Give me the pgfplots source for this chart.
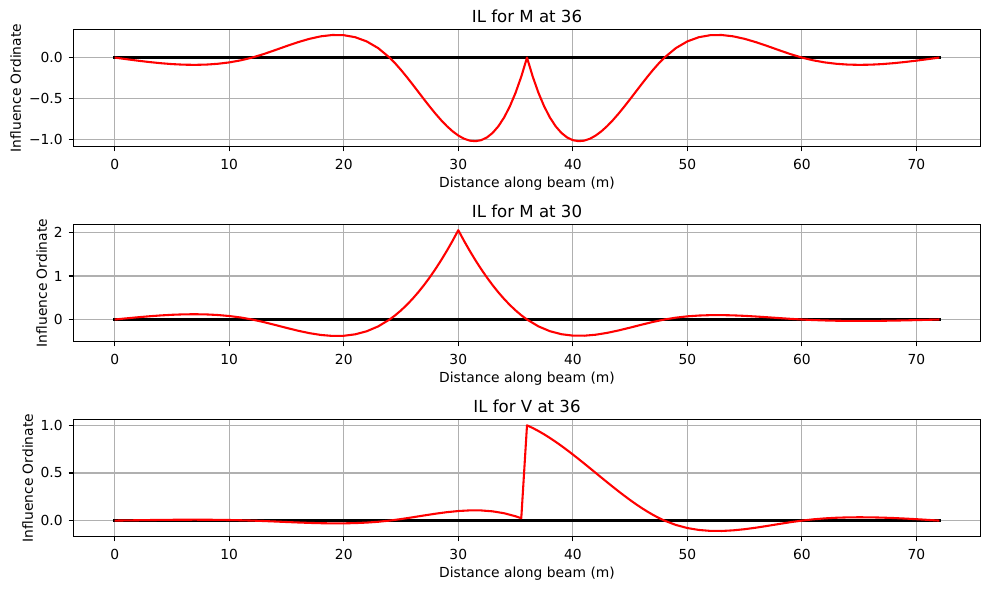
\documentclass[border=0pt]{standalone}
\usepackage{fontspec}
\setmainfont{DejaVu Sans}
\usepackage{pgfplots}
\pgfplotsset{compat=1.18}
\usepackage{pgfplotstable}
\usetikzlibrary{calc}

\definecolor{gridgray}{HTML}{B0B0B0}

% Influence line ordinates, six spans of 12 m
\pgfplotstableread{
x y
0 0
1 -0.0191
2 -0.0374
3 -0.0541
4 -0.0684
5 -0.0795
6 -0.0865
7 -0.0888
8 -0.0855
9 -0.0757
10 -0.0588
11 -0.0338
12 0
13 0.0426
14 0.0908
15 0.1406
16 0.1880
17 0.2290
18 0.2596
19 0.2758
20 0.2735
21 0.2488
22 0.1977
23 0.1161
24 0
24.5 -0.0718
25 -0.1513
25.5 -0.2366
26 -0.3259
26.5 -0.4171
27 -0.5084
27.5 -0.5979
28 -0.6838
28.5 -0.7640
29 -0.8367
29.5 -0.9000
30 -0.9519
30.5 -0.9907
31 -1.0143
31.5 -1.0209
32 -1.0085
32.5 -0.9754
33 -0.9195
33.5 -0.8389
34 -0.7318
34.5 -0.5963
35 -0.4304
35.5 -0.2323
36 0
36.5 -0.2323
37 -0.4304
37.5 -0.5963
38 -0.7318
38.5 -0.8389
39 -0.9195
39.5 -0.9754
40 -1.0085
40.5 -1.0209
41 -1.0143
41.5 -0.9907
42 -0.9519
42.5 -0.9000
43 -0.8367
43.5 -0.7640
44 -0.6838
44.5 -0.5979
45 -0.5084
45.5 -0.4171
46 -0.3259
46.5 -0.2366
47 -0.1513
47.5 -0.0718
48 0
49 0.1161
50 0.1977
51 0.2488
52 0.2735
53 0.2758
54 0.2596
55 0.2290
56 0.1880
57 0.1406
58 0.0908
59 0.0426
60 0
61 -0.0338
62 -0.0588
63 -0.0757
64 -0.0855
65 -0.0888
66 -0.0865
67 -0.0795
68 -0.0684
69 -0.0541
70 -0.0374
71 -0.0191
72 0
}\ilMA

\pgfplotstableread{
x y
0 0
1 0.0261
2 0.0511
3 0.0739
4 0.0934
5 0.1086
6 0.1183
7 0.1214
8 0.1168
9 0.1035
10 0.0803
11 0.0462
12 0
13 -0.0582
14 -0.1241
15 -0.1922
16 -0.2570
17 -0.3130
18 -0.3548
19 -0.3769
20 -0.3738
21 -0.3400
22 -0.2701
23 -0.1586
24 0
24.5 0.0986
25 0.2103
25.5 0.3351
26 0.4731
26.5 0.6243
27 0.7886
27.5 0.9661
28 1.1567
28.5 1.3605
29 1.5775
29.5 1.8076
30 2.0510
30.5 1.8075
31 1.5772
31.5 1.3601
32 1.1561
32.5 0.9654
33 0.7879
33.5 0.6235
34 0.4724
34.5 0.3345
35 0.2098
35.5 0.0983
36 0
37 -0.1578
38 -0.2683
39 -0.3371
40 -0.3698
41 -0.3719
42 -0.3490
43 -0.3068
44 -0.2507
45 -0.1864
46 -0.1195
47 -0.0555
48 0
49 0.0426
50 0.0725
51 0.0912
52 0.1003
53 0.1011
54 0.0952
55 0.0840
56 0.0689
57 0.0516
58 0.0333
59 0.0156
60 0
61 -0.0124
62 -0.0215
63 -0.0278
64 -0.0313
65 -0.0326
66 -0.0317
67 -0.0291
68 -0.0251
69 -0.0198
70 -0.0137
71 -0.0070
72 0
}\ilMB

\pgfplotstableread{
x y
0 0
1 0.0020
2 0.0039
3 0.0057
4 0.0072
5 0.0084
6 0.0091
7 0.0094
8 0.0090
9 0.0080
10 0.0062
11 0.0036
12 0
13 -0.0045
14 -0.0096
15 -0.0148
16 -0.0198
17 -0.0242
18 -0.0274
19 -0.0291
20 -0.0289
21 -0.0263
22 -0.0209
23 -0.0123
24 0
25 0.0160
26 0.0344
27 0.0537
28 0.0722
29 0.0883
30 0.1005
31 0.1071
32 0.1065
33 0.0971
34 0.0773
35 0.0454
35.5 0.0245
36 1.0000
36.5 0.9718
37 0.9400
37.5 0.9051
38 0.8674
38.5 0.8271
39 0.7846
39.5 0.7401
40 0.6941
40.5 0.6468
41 0.5986
41.5 0.5497
42 0.5005
42.5 0.4513
43 0.4024
43.5 0.3541
44 0.3067
44.5 0.2607
45 0.2162
45.5 0.1736
46 0.1332
46.5 0.0953
47 0.0603
47.5 0.0284
48 0
49 -0.0458
50 -0.0780
51 -0.0981
52 -0.1079
53 -0.1088
54 -0.1024
55 -0.0903
56 -0.0742
57 -0.0555
58 -0.0358
59 -0.0168
60 0
61 0.0133
62 0.0232
63 0.0299
64 0.0337
65 0.0350
66 0.0341
67 0.0313
68 0.0270
69 0.0213
70 0.0148
71 0.0075
72 0
}\ilV

\pgfplotsset{
  ilaxis/.style={
    scale only axis,
    width=653.04bp, height=84.24bp,
    anchor=north west,
    xmin=-3.6, xmax=75.6,
    xtick={0,10,20,30,40,50,60,70},
    xtick pos=lower, ytick pos=left,
    tick align=outside,
    major tick length=3.5bp,
    every tick/.style={black, line width=0.8bp},
    axis line style={line width=0.8bp},
    grid=major,
    major grid style={color=gridgray, line width=0.8bp},
    /pgf/number format/assume math mode=true,
    tick label style={font=\fontsize{10}{12}\selectfont, inner sep=0pt},
    xticklabel style={anchor=base, yshift=-13.3bp},
    yticklabel style={anchor=east, xshift=-4.1bp},
    every axis title shift=0pt,
    title style={font=\fontsize{12}{14}\selectfont, at={(0.5,1)}, anchor=base, yshift=4.9bp, inner sep=0pt},
    xlabel={Distance along beam (m)},
    xlabel style={font=\fontsize{10}{12}\selectfont, at={(axis description cs:0.5,0)}, anchor=base, yshift=-29.6bp, inner sep=0pt},
    ylabel={Influence Ordinate},
    clip=false,
  },
  beam/.style={black, line width=2bp, line cap=rect},
  il/.style={red, line width=1.5bp, line join=round},
}

\begin{document}
\begin{tikzpicture}
\path[use as bounding box] (0,0) rectangle (712.08bp,-424.08bp);

\begin{axis}[ilaxis, at={(52.92bp,-21.24bp)},
  title={IL for M at 36},
  ymin=-1.086, ymax=0.343,
  ytick={-1,-0.5,0}, yticklabels={−1.0,−0.5,0.0},
  ylabel style={font=\fontsize{10}{12}\selectfont, inner sep=0pt, anchor=base,
    at={($(axis description cs:0,0.5)+(-37.9bp,0)$)}},
]
\addplot[beam] coordinates {(0,0) (72,0)};
\addplot[il] table {\ilMA};
\end{axis}

\begin{axis}[ilaxis, at={(52.92bp,-161.64bp)},
  title={IL for M at 30},
  ymin=-0.505, ymax=2.182,
  ytick={0,1,2}, yticklabels={0,1,2},
  ylabel style={font=\fontsize{10}{12}\selectfont, inner sep=0pt, anchor=base,
    at={($(axis description cs:0,0.5)+(-19.2bp,0)$)}},
]
\addplot[beam] coordinates {(0,0) (72,0)};
\addplot[il] table {\ilMB};
\end{axis}

\begin{axis}[ilaxis, at={(52.92bp,-302.04bp)},
  title={IL for V at 36},
  ymin=-0.167, ymax=1.061,
  ytick={0,0.5,1}, yticklabels={0.0,0.5,1.0},
  ylabel style={font=\fontsize{10}{12}\selectfont, inner sep=0pt, anchor=base,
    at={($(axis description cs:0,0.5)+(-29.2bp,0)$)}},
]
\addplot[beam] coordinates {(0,0) (72,0)};
\addplot[il] table {\ilV};
\end{axis}
\end{tikzpicture}
\end{document}
